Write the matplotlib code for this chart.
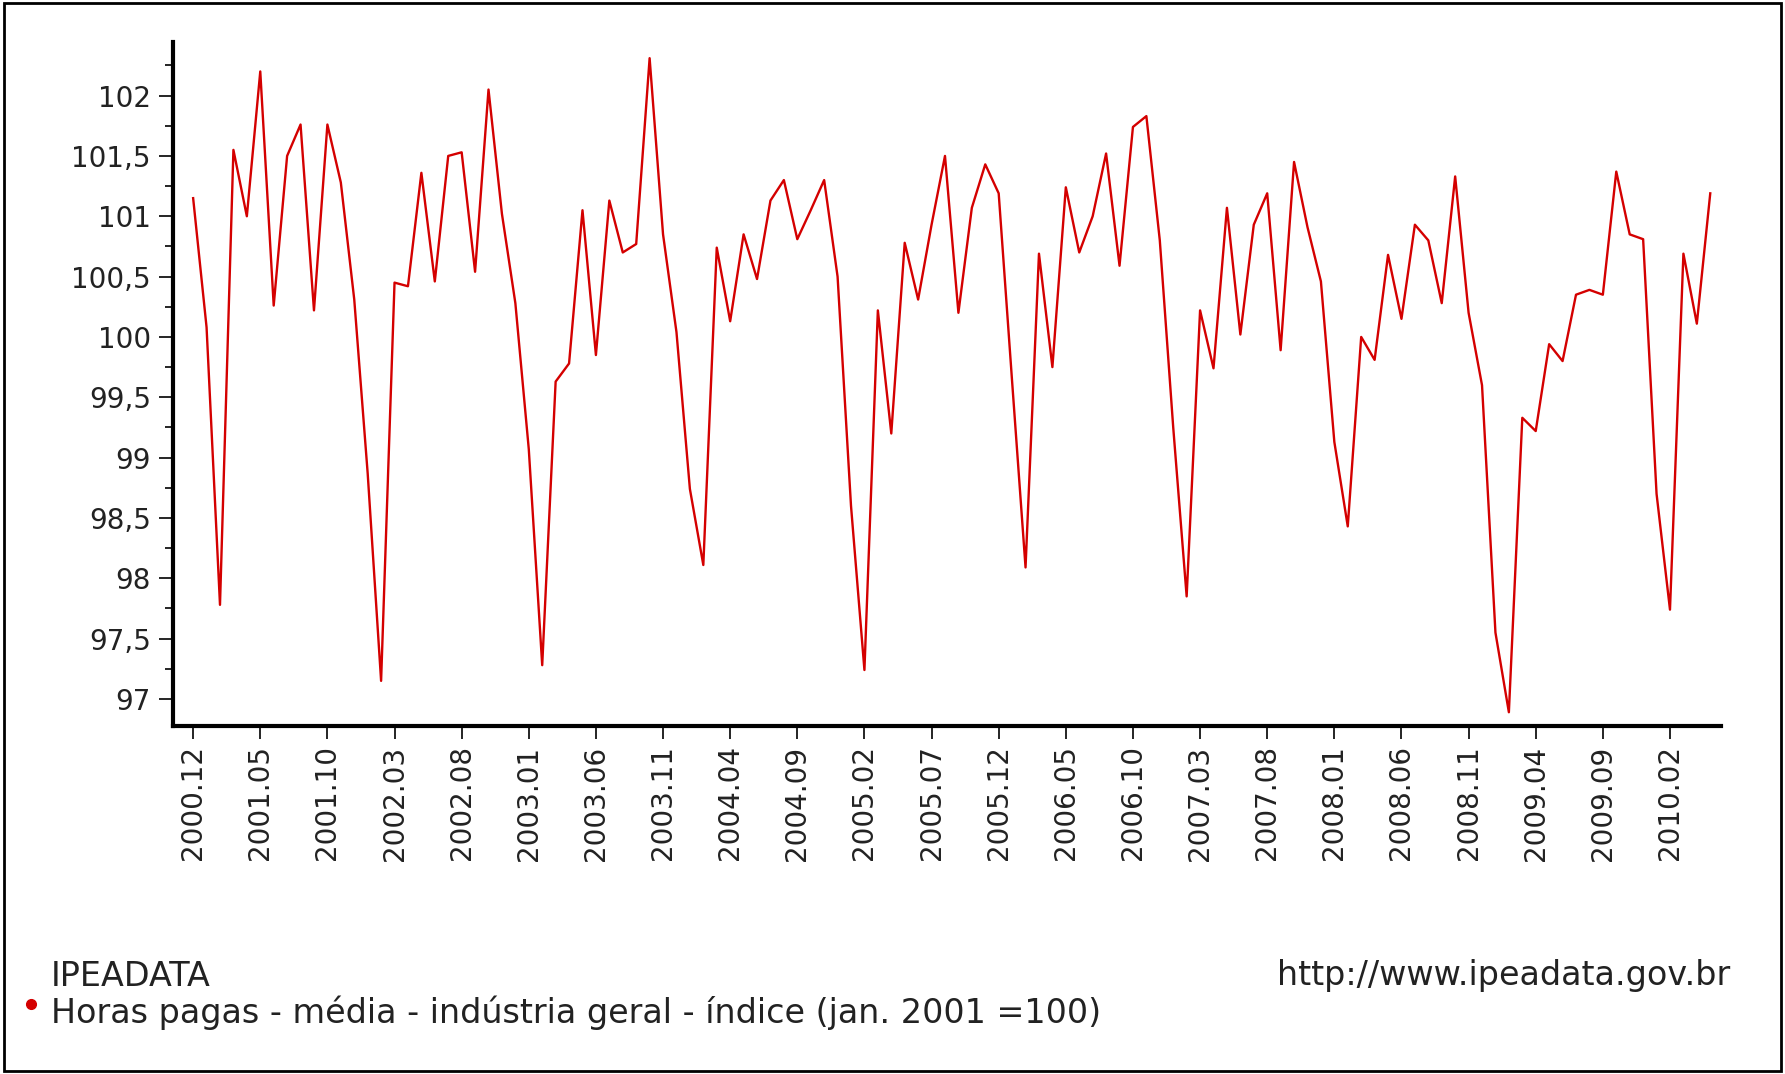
import matplotlib
matplotlib.use("Agg")
import matplotlib.pyplot as plt
from matplotlib.ticker import MultipleLocator, FuncFormatter
from matplotlib.patches import Rectangle
from matplotlib.lines import Line2D

plt.rcParams["font.family"] = ["DejaVu Sans"]

# Horas pagas - média - indústria geral - índice (jan. 2001 = 100), 2000.12 .. 2010.05
horas = [
    101.15, 100.08, 97.78, 101.55, 101.00, 102.20, 100.26, 101.50, 101.76, 100.22,
    101.76, 101.28, 100.31, 98.87, 97.15, 100.45, 100.42, 101.36, 100.46, 101.50,
    101.53, 100.54, 102.05, 101.02, 100.28, 99.07, 97.28, 99.63, 99.78, 101.05,
    99.85, 101.13, 100.70, 100.77, 102.31, 100.85, 100.04, 98.74, 98.11, 100.74,
    100.13, 100.85, 100.48, 101.13, 101.30, 100.81, 101.05, 101.30, 100.50, 98.60,
    97.24, 100.22, 99.20, 100.78, 100.31, 100.93, 101.50, 100.20, 101.07, 101.43,
    101.19, 99.63, 98.09, 100.69, 99.75, 101.24, 100.70, 101.00, 101.52, 100.59,
    101.74, 101.83, 100.80, 99.25, 97.85, 100.22, 99.74, 101.07, 100.02, 100.93,
    101.19, 99.89, 101.45, 100.91, 100.46, 99.13, 98.43, 100.00, 99.81, 100.68,
    100.15, 100.93, 100.80, 100.28, 101.33, 100.20, 99.60, 97.55, 96.89, 99.33,
    99.22, 99.94, 99.80, 100.35, 100.39, 100.35, 101.37, 100.85, 100.81, 98.70,
    97.74, 100.69, 100.11, 101.19,
]

tick_labels = [
    "2000.12", "2001.05", "2001.10", "2002.03", "2002.08", "2003.01", "2003.06",
    "2003.11", "2004.04", "2004.09", "2005.02", "2005.07", "2005.12", "2006.05",
    "2006.10", "2007.03", "2007.08", "2008.01", "2008.06", "2008.11", "2009.04",
    "2009.09", "2010.02",
]
tick_step = 5

W, H = 1785, 1074
fig = plt.figure(figsize=(W / 100, H / 100), dpi=100)
fig.patch.set_facecolor("white")

left, right, top, bottom = 173, 1721, 42, 726
ax = fig.add_axes([left / W, 1 - bottom / H, (right - left) / W, (bottom - top) / H])

x = list(range(len(horas)))
ax.plot(x, horas, color="#d40000", lw=1.7)

ax.set_xlim(-1.5, 113.8)
ax.set_ylim(96.776, 102.444)

ax.set_xticks([k * tick_step for k in range(len(tick_labels))])
ax.set_xticklabels(tick_labels, rotation=90, fontsize=20, color="#222222")

ax.yaxis.set_major_locator(MultipleLocator(0.5))
ax.yaxis.set_minor_locator(MultipleLocator(0.25))
ax.yaxis.set_major_formatter(FuncFormatter(lambda v, p: f"{v:g}".replace(".", ",")))
ax.tick_params(axis="y", which="major", length=10, width=1.2, labelsize=20,
               pad=6, labelcolor="#222222")
ax.tick_params(axis="y", which="minor", length=6, width=1.2)
ax.tick_params(axis="x", which="major", length=9, width=1.2, pad=5)

for s in ["top", "right"]:
    ax.spines[s].set_visible(False)
for s in ["left", "bottom"]:
    ax.spines[s].set_linewidth(3)

fig.text(51 / W, 1 - 976 / H, "IPEADATA", fontsize=24, va="center", ha="left",
         color="#222222")
fig.text(51 / W, 1 - 1013 / H,
         "Horas pagas - média - indústria geral - índice (jan. 2001 =100)",
         fontsize=24, va="center", ha="left", color="#222222")
fig.text(1730 / W, 1 - 976 / H, "http://www.ipeadata.gov.br",
         fontsize=24, va="center", ha="right", color="#222222")
fig.add_artist(Line2D([31 / W], [1 - 1004 / H], marker="o", markersize=7,
                      color="#d40000", transform=fig.transFigure))

fig.patches.append(Rectangle((0.002, 0.003), 0.996, 0.994, transform=fig.transFigure,
                             fill=False, edgecolor="black", lw=2))

fig.savefig("out.png", dpi=100)
